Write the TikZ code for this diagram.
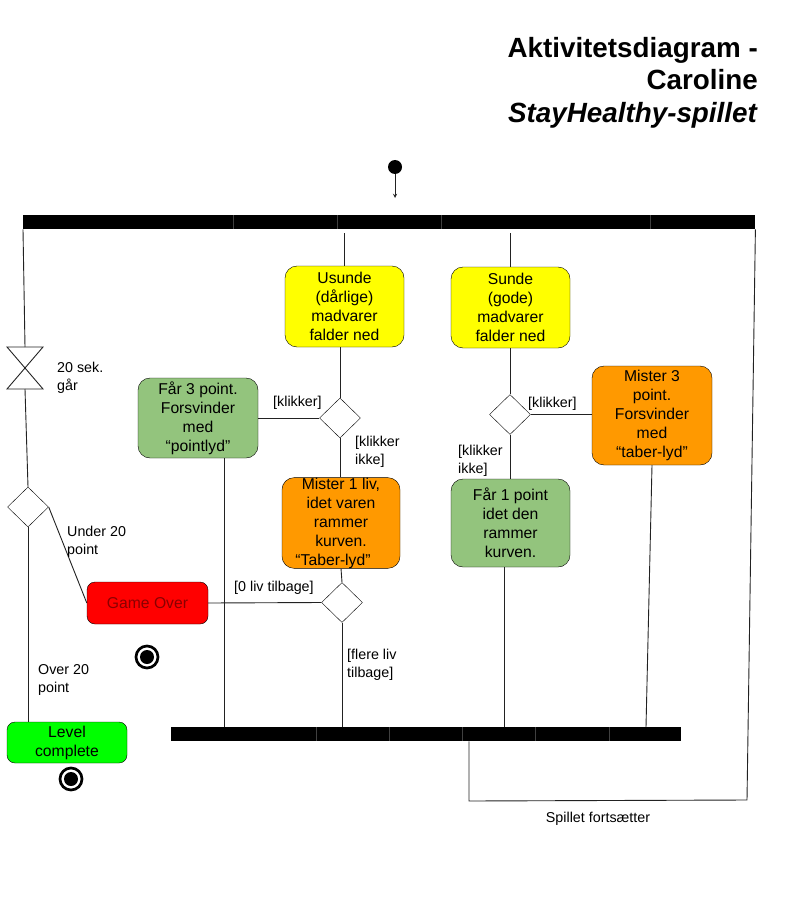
\documentclass[tikz,border=0pt]{standalone}
\usepackage{fontspec}
\setmainfont{Liberation Sans}
\usepackage{xcolor}
\usetikzlibrary{shapes.geometric}

\definecolor{foodyellow}{HTML}{FFFF00}
\definecolor{pointgreen}{HTML}{93C47D}
\definecolor{loseorange}{HTML}{FF9900}
\definecolor{overred}{HTML}{FF0000}
\definecolor{overtext}{HTML}{8A0000}
\definecolor{levelgreen}{HTML}{00FF00}
\definecolor{wire}{HTML}{222222}

\begin{document}
\begin{tikzpicture}[x=1pt, y=-1pt, >=stealth,
    action/.style={draw, rounded corners=12pt, align=center, inner sep=0pt,
        font=\fontsize{15.7}{19}\selectfont},
    choice/.style={draw, diamond, minimum width=41pt, minimum height=40pt, inner sep=0pt},
    guard/.style={align=left, inner sep=0pt, font=\fontsize{14.3}{18}\selectfont},
    bar/.style={fill=black, inner sep=0pt, anchor=north west, minimum height=14pt},
    flow/.style={draw=wire, line width=0.9pt},
    endnode/.style={circle, draw, line width=2.7pt, minimum size=22pt, inner sep=0pt,
        path picture={\fill[black] (path picture bounding box.center) circle (7pt);}}]

    \useasboundingbox (0,0) rectangle (791,920);

    % Title
    \node[anchor=north east, align=right, inner sep=0pt,
          font=\fontsize{27.8}{32.5}\selectfont\bfseries] (title) at (758,37)
        {Aktivitetsdiagram -\\Caroline\\\textit{StayHealthy-spillet}};

    % Start and the two bars
    \node[circle, fill=black, minimum size=14pt, inner sep=0pt] (start) at (395,167) {};
    \coordinate (forkin) at (395,198);
    \node[bar, minimum width=732pt] (fork) at (23,215) {};
    \node[bar, minimum width=510pt] (join) at (171,727) {};
    \foreach \x in {233,337,441,650}
        \draw[black!75, line width=0.5pt] (\x,215) -- (\x,229);
    \foreach \x in {316,389,462,535,609}
        \draw[black!75, line width=0.5pt] (\x,727) -- (\x,741);
    \draw[flow, ->] (start) -- (forkin);

    % --- Actions ---
    \node[action, fill=foodyellow, minimum width=119pt, minimum height=81pt] (usunde) at (344.5,306.5)
        {Usunde\\(dårlige)\\madvarer\\falder ned};
    \node[action, fill=foodyellow, minimum width=119pt, minimum height=81pt] (sunde) at (510.5,307.5)
        {Sunde\\(gode)\\madvarer\\falder ned};
    \node[action, fill=pointgreen, minimum width=120pt, minimum height=80pt] (faar3) at (198,418)
        {Får 3 point.\\Forsvinder\\med\\“pointlyd”};
    \node[action, fill=loseorange, minimum width=118pt, minimum height=90pt] (mister1) at (341,523)
        {Mister 1 liv,\\idet varen\\rammer\\kurven.\\“Taber-lyd”\hspace*{16pt}};
    \node[action, fill=loseorange, minimum width=120pt, minimum height=99pt] (mister3) at (652,415.5)
        {Mister 3\\point.\\Forsvinder\\med\\“taber-lyd”};
    \node[action, fill=pointgreen, minimum width=119pt, minimum height=88pt] (faar1) at (510.5,523)
        {Får 1 point\\idet den\\rammer\\kurven.};
    \node[action, fill=overred, text=overtext, rounded corners=8pt, minimum width=121pt, minimum height=42pt] (gameover) at (147.5,603)
        {Game Over};
    \node[action, fill=levelgreen, rounded corners=8pt, minimum width=120pt, minimum height=41pt] (level) at (67,742.5)
        {Level\\complete};

    % --- Decisions ---
    \node[choice] (gate) at (28,507) {};
    \node[choice] (pickbad) at (340,418) {};
    \node[choice] (lives) at (342,602.5) {};
    \node[choice] (pickgood) at (510,414.5) {};

    % End nodes
    \node[endnode] (endover) at (147,657) {};
    \node[endnode] (endlevel) at (71,779) {};

    % Timer (hourglass)
    \coordinate (timertop) at (25,347);
    \coordinate (timerbot) at (25,389);
    \draw[wire, line width=0.9pt] (7,347) -- (43,347) -- (7,389) -- (43,389) -- cycle;

    % --- Left branch ---
    \draw[flow] (fork.south west) -- (timertop);
    \draw[flow] (timerbot) -- (gate.north);
    \draw[flow] (gate.east) -- (gameover.west);
    \draw[flow] (gate.south) -- (gate.south |- level.north);

    % --- Unhealthy food ---
    \draw[flow, shorten <=4pt] (fork.south -| usunde.north) -- (usunde.north);
    \draw[flow] (usunde.south -| pickbad.north) -- (pickbad.north);
    \draw[flow] (pickbad.west) -- (pickbad.west -| faar3.east);
    \draw[flow] (pickbad.south) -- (pickbad.south |- mister1.north);
    \draw[flow] (mister1.south) -- (lives.north);
    \draw[flow] (lives.west) -- (gameover.east);
    \draw[flow] (lives.south) -- (lives.south |- join.north);
    \draw[flow] ([xshift=26pt]faar3.south) -- ([xshift=26pt]faar3.south |- join.north);

    % --- Healthy food ---
    \draw[flow, shorten <=4pt] (fork.south -| sunde.north) -- (sunde.north);
    \draw[flow] (sunde.south -| pickgood.north) -- (pickgood.north);
    \draw[flow] (pickgood.east) -- (pickgood.east -| mister3.west);
    \draw[flow] (pickgood.south) -- (pickgood.south |- faar1.north);
    \draw[flow] ([xshift=-6pt]faar1.south) -- ([xshift=-6pt]faar1.south |- join.north);
    \draw[flow] (mister3.south) -- ([xshift=-6pt]mister3.south |- join.north);

    % Loop back to the top bar
    \coordinate (loopturn) at (747,800);
    \draw[flow] (join.south -| 469,0) -- (469,801) -- (loopturn) -- (fork.south east);

    % --- Guards and notes ---
    \node[guard, anchor=north west] (timerlbl) at (57,362) {20 sek.\\går};
    \node[guard, anchor=north west] (underlbl) at (67,526) {Under 20\\point};
    \node[guard, anchor=north west] (overlbl) at (38,664) {Over 20\\point};
    \node[guard, anchor=north west] (clickbad) at (273,396) {[klikker]};
    \node[guard, anchor=north west] (missbad) at (355,436) {[klikker\\ikke]};
    \node[guard, anchor=north west] (clickgood) at (528,397) {[klikker]};
    \node[guard, anchor=north west] (missgood) at (458,445) {[klikker\\ikke]};
    \node[guard, anchor=north west] (nolives) at (234,581) {[0 liv tilbage]};
    \node[guard, anchor=north west] (morelives) at (347,649) {[flere liv\\tilbage]};
    \node[guard, anchor=north] (continue) at (598,812) {Spillet fortsætter};

\end{tikzpicture}
\end{document}
